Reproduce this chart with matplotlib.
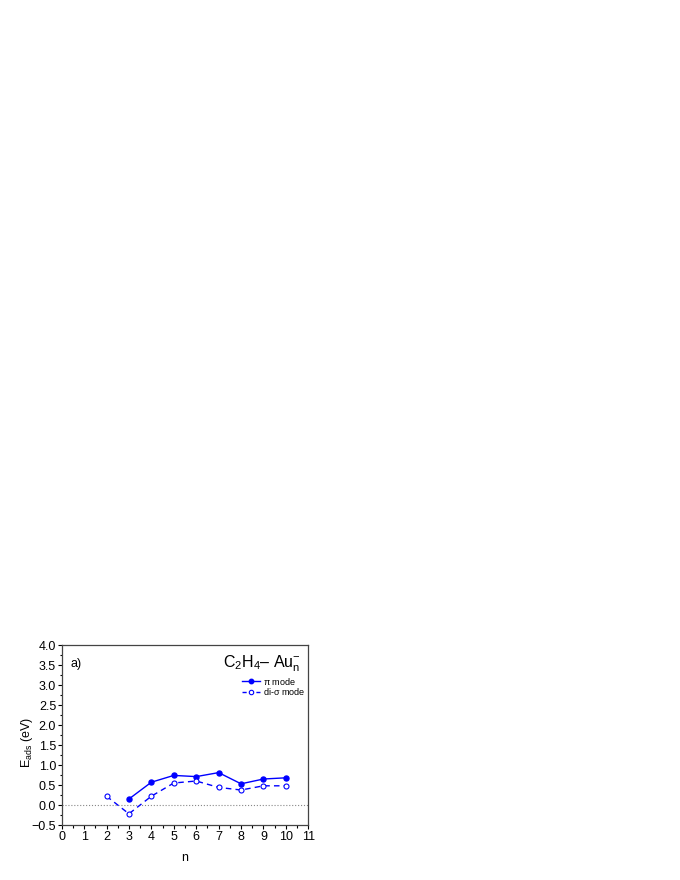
import numpy as np
import matplotlib
matplotlib.use("Agg")
import matplotlib.pyplot as plt
from matplotlib.ticker import MultipleLocator
from matplotlib.lines import Line2D

plt.rcParams['font.family'] = ['Liberation Sans', 'DejaVu Sans']
plt.rcParams['mathtext.fontset'] = 'custom'
plt.rcParams['mathtext.rm'] = 'Liberation Sans'
plt.rcParams['mathtext.it'] = 'Liberation Sans'
plt.rcParams['mathtext.default'] = 'regular'

# pi mode adsorption energies
n_pi = [3, 4, 5, 6, 7, 8, 9, 10]
e_pi = [0.15, 0.57, 0.74, 0.71, 0.81, 0.53, 0.65, 0.68]

# di-sigma mode adsorption energies
n_ds = [2, 3, 4, 5, 6, 7, 8, 9, 10]
e_ds = [0.22, -0.22, 0.22, 0.55, 0.60, 0.44, 0.375, 0.48, 0.48]

blue = '#0000ff'

fig = plt.figure(figsize=(6.8, 8.8), dpi=100)
ax = fig.add_axes([0.0907, 0.0625, 0.3627, 0.2045])

ax.axhline(0, color='#888888', ls=':', lw=0.8)
ax.plot(n_pi, e_pi, color=blue, lw=1.0, marker='o', ms=3.6, mfc=blue, mec=blue)
ax.plot(n_ds, e_ds, color=blue, lw=1.0, ls=(0, (4, 3)), marker='o', ms=3.6,
        mfc='white', mec=blue, mew=0.8)

ax.set_xlim(0, 11)
ax.set_ylim(-0.5, 4.0)
ax.xaxis.set_major_locator(MultipleLocator(1))
ax.xaxis.set_minor_locator(MultipleLocator(0.5))
ax.yaxis.set_major_locator(MultipleLocator(0.5))
ax.yaxis.set_minor_locator(MultipleLocator(0.25))
ax.tick_params(which='both', direction='out', labelsize=9, width=0.8, pad=1)
ax.tick_params(which='major', length=3)
ax.tick_params(which='minor', length=1.8)
for s in ax.spines.values():
    s.set_linewidth(0.9)
    s.set_color('#444444')

ax.set_xlabel('n', fontsize=9, labelpad=7)
ax.set_ylabel(r'E$_{ads}$ (eV)', fontsize=9)
ax.yaxis.set_label_coords(-0.11, 0.46)

ax.text(0.036, 0.88, 'a)', transform=ax.transAxes, fontsize=9)
ax.text(0.97, 0.875, r'C$_2$H$_4$– Au$_n^{-}$', transform=ax.transAxes,
        fontsize=11.5, ha='right')

handles = [Line2D([], [], color=blue, lw=1.0, marker='o', ms=3.2, mfc=blue, mec=blue),
           Line2D([], [], color=blue, lw=1.0, ls=(0, (3, 2)), marker='o', ms=3.2,
                  mfc='white', mec=blue, mew=0.8)]
ax.legend(handles, [r'$\pi$ mode', r'di-$\sigma$ mode'], loc='upper right',
          bbox_to_anchor=(1.01, 0.86), frameon=False, fontsize=6.5,
          handlelength=2.1, handletextpad=0.3, labelspacing=-0.1, borderpad=0.1)

fig.savefig('out.png', dpi=100)
